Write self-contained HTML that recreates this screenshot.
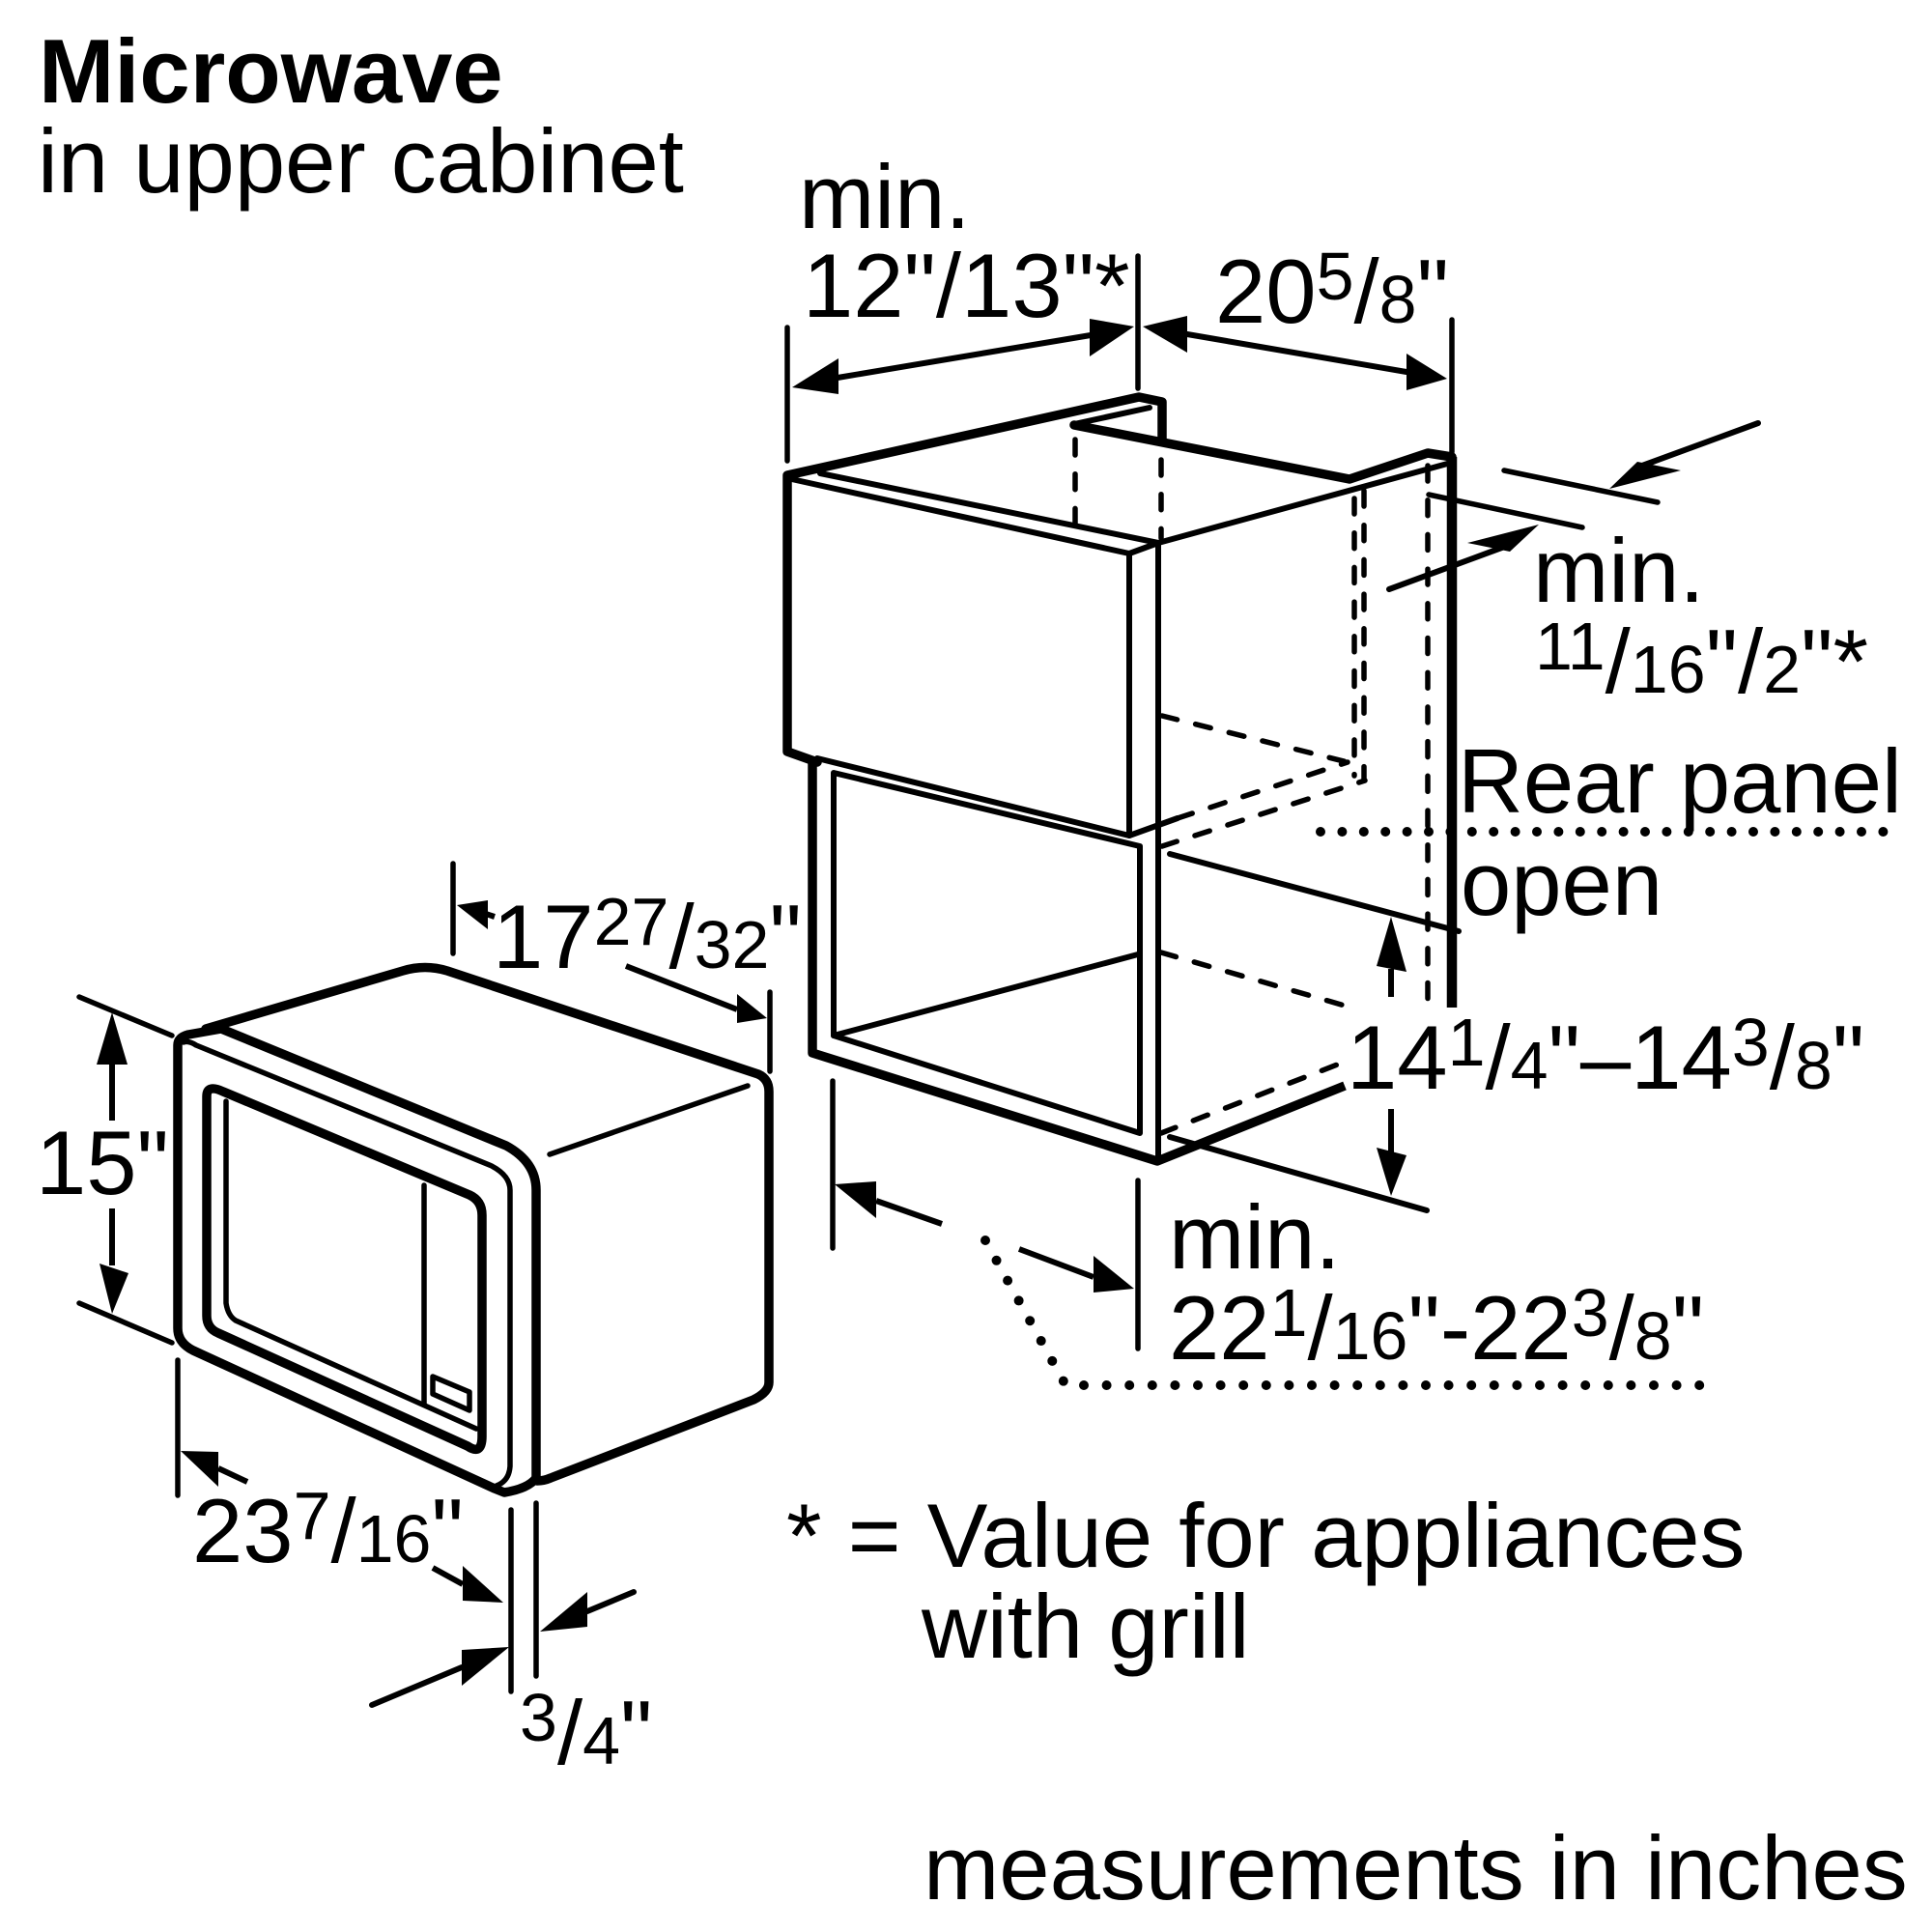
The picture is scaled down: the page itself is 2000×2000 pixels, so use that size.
<!DOCTYPE html>
<html><head><meta charset="utf-8"><style>
html,body{margin:0;padding:0;background:#fff}
svg{display:block}
text{font-family:"Liberation Sans",Arial,sans-serif;font-size:94px;fill:#000}
.s{font-size:70px}
</style></head><body>
<svg width="2000" height="2000" viewBox="0 0 2000 2000" xmlns="http://www.w3.org/2000/svg">
<rect width="2000" height="2000" fill="#fff"/>
<g fill="none" stroke="#000" stroke-linejoin="round" stroke-linecap="round">
<!-- cabinet thick -->
<g stroke-width="9.5">
<path d="M846 789L815 778V492L1179 411L1203 416V454"/>
<path d="M1112 440L1397 496L1478 469L1503 473"/>
<path d="M841 784V1090L1198 1202L1392 1124" stroke-linecap="butt"/>
<path d="M1503 473V1043" stroke-width="10.5" stroke-linecap="butt"/>
</g>
<!-- cabinet thin -->
<g stroke-width="6">
<path d="M1112 439L1190 422"/>
<path d="M815 495L1169 573L1199 562L1502 479"/>
<path d="M849 490L1199 562"/>
<path d="M1169 573V865"/>
<path d="M1199 562V1202"/>
<path d="M846 785L1169 865L1219 847"/>
<path d="M863 800L1180 876V1173L863 1072Z"/>
<path d="M863 1072L1178 988"/>
<path d="M1211 884L1510 964"/>
<path d="M1211 1177L1477 1253"/>
</g>
<!-- dashed -->
<g stroke-width="5.5" stroke-dasharray="16 19.7">
<path d="M1113 455V544"/>
<path d="M1202 476V557"/>
<path d="M1402 516V803"/>
<path d="M1412 508V808"/>
<path d="M1478 482V1034"/>
<path d="M1203 741L1395 789"/>
<path d="M1219 847L1395 789"/>
<path d="M1203 876L1413 808"/>
<path d="M1202 986L1392 1041"/>
<path d="M1202 1173L1387 1101"/>
</g>
<!-- dots -->
<path d="M1367 861H1950" stroke-width="10" stroke-dasharray="0 22.4"/>
<path d="M1122 1434H1770" stroke-width="10" stroke-dasharray="0 23.6"/>
<path d="M1020 1284L1101 1430" stroke-width="10" stroke-dasharray="0 23.8"/>
<!-- dims thin -->
<g stroke-width="5.5">
<path d="M815 339V477"/><path d="M1178 265V402"/><path d="M1503 331V468"/>
<path d="M1557 487L1716 520"/><path d="M1479 512L1638 546"/>
<path d="M862 1119V1292"/><path d="M1178 1222V1396"/>
<path d="M82 1032L178 1072"/><path d="M82 1349L178 1390"/>
<path d="M469 894V987"/><path d="M797 1027V1109"/><path d="M184 1408V1548"/>
<path d="M529 1563V1751"/><path d="M555 1556V1735"/>
</g>
<!-- arrow stems -->
<g stroke-width="6">
<path d="M867 391L1129 347"/><path d="M1229 346L1456 385"/>
<path d="M1820 438L1700 482"/><path d="M1438 610L1560 565"/>
<path d="M1440 1003V1032" stroke-linecap="butt"/><path d="M1440 1148V1193" stroke-linecap="butt"/>
<path d="M907 1243L975 1267" stroke-linecap="butt"/><path d="M1055 1293L1132 1322" stroke-linecap="butt"/>
<path d="M116 1102V1160" stroke-linecap="butt"/><path d="M116 1251V1310" stroke-linecap="butt"/>
<path d="M500 945L512 949" stroke-linecap="butt"/>
<path d="M648 1000L763 1045" stroke-linecap="butt"/>
<path d="M226 1520L256 1534" stroke-linecap="butt"/>
<path d="M448 1623L479 1640" stroke-linecap="butt"/>
<path d="M656 1648L608 1668"/>
<path d="M385 1765L478 1726"/>
</g>
<!-- microwave -->
<g stroke-width="9.5">
<path d="M213 1065L417 1005Q440 998 463 1005L785 1112Q796 1117 796 1130V1431Q796 1441 780 1449L570 1530Q563 1533 556 1533"/>
<path d="M229 1065L524 1186Q555 1203 555 1232V1530Q547 1541 522 1545L512 1541L200 1398Q184 1390 184 1375V1082Q184 1074 195 1071L229 1065Z"/>
<path d="M231 1130Q214 1122 214 1135V1362Q214 1375 226 1380L484 1497Q499 1507 499 1487V1258Q499 1243 486 1237Z"/>
</g>
<g stroke-width="5.5">
<path d="M190 1079Q195 1077 203 1082L509 1207Q528 1217 528 1232V1518Q527 1533 514 1538"/>
<path d="M234 1140V1349Q236 1362 244 1367L493 1479"/>
<path d="M439 1227V1454"/>
<path d="M448 1425L486 1441V1460L448 1443Z"/>
<path d="M774 1124L569 1195"/>
</g>
</g>
<!-- arrowheads -->
<g fill="#000" stroke="none">
<path d="M820 401L868 371V408Z"/><path d="M1174 338L1128 330V369Z"/>
<path d="M1183 338L1229 327V365Z"/><path d="M1498 392L1456 366V404Z"/>
<path d="M1666 506L1695 478L1740 487Z"/><path d="M1593 543L1519 562L1563 571Z"/>
<path d="M1440 949L1425 1000L1456 1006Z"/><path d="M1440 1238L1425 1188L1456 1196Z"/>
<path d="M864 1226L907 1223V1261Z"/><path d="M1174 1334L1132 1300V1338Z"/>
<path d="M116 1048L100 1102L132 1102Z"/><path d="M116 1360L103 1308L133 1318Z"/>
<path d="M473 937L505 932V962Z"/><path d="M794 1054L763 1029V1059Z"/>
<path d="M187 1502L226 1503V1539Z"/><path d="M521 1659L479 1621V1657Z"/>
<path d="M559 1689L608 1648V1684Z"/><path d="M527 1705L478 1708V1745Z"/>
</g>
<!-- text -->
<text x="40" y="106" font-weight="bold">Microwave</text>
<text x="39" y="199">in upper cabinet</text>
<text x="827" y="236">min.</text>
<text x="831" y="328">12"/13"*</text>
<text x="1258" y="334">20<tspan class="s" dy="-24">5</tspan><tspan dy="24">/</tspan><tspan class="s">8</tspan>"</text>
<text x="1587" y="623">min.</text>
<text x="1589" y="693" class="s">11<tspan dy="24" style="font-size:94px">/</tspan><tspan>16</tspan><tspan style="font-size:94px">"/</tspan><tspan>2</tspan><tspan style="font-size:94px">"*</tspan></text>
<text x="1509" y="841">Rear panel</text>
<text x="1512" y="947">open</text>
<text x="1394" y="1127">14<tspan class="s" dy="-24">1</tspan><tspan dy="24">/</tspan><tspan class="s">4</tspan>"–14<tspan class="s" dy="-24">3</tspan><tspan dy="24">/</tspan><tspan class="s">8</tspan>"</text>
<text x="1210" y="1313">min.</text>
<text x="1210" y="1407">22<tspan class="s" dy="-24">1</tspan><tspan dy="24">/</tspan><tspan class="s">16</tspan>"-22<tspan class="s" dy="-24">3</tspan><tspan dy="24">/</tspan><tspan class="s">8</tspan>"</text>
<text x="510" y="1002">17<tspan class="s" dy="-24">27</tspan><tspan dy="24">/</tspan><tspan class="s">32</tspan>"</text>
<text x="37" y="1236">15"</text>
<text x="199" y="1617">23<tspan class="s" dy="-24">7</tspan><tspan dy="24">/</tspan><tspan class="s">16</tspan>"</text>
<text x="538" y="1826"><tspan class="s" dy="-24">3</tspan><tspan dy="24">/</tspan><tspan class="s">4</tspan>"</text>
<text x="814" y="1622" style="word-spacing:1px">* = Value for appliances</text>
<text x="954" y="1716">with grill</text>
<text x="956" y="1966">measurements in inches</text>
</svg>
</body></html>
